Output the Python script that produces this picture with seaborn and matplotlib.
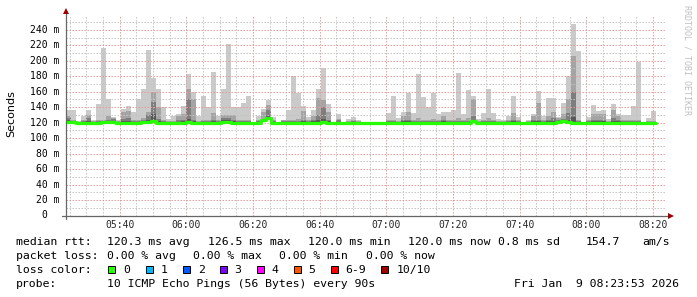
import numpy as np
import pandas as pd
import matplotlib
matplotlib.use("Agg")
import matplotlib.pyplot as plt
import matplotlib.transforms as mtransforms
from matplotlib.patches import Rectangle
from matplotlib.ticker import MultipleLocator
import seaborn as sns

# ---------------- data ----------------
first_bar = "05:24"          # start of first 90 s interval
step_seconds = 90
view_start = "05:23:53"
view_end = "08:23:53"

# highest ping of each 10-ping round (outer smoke band)
ping_max = [137, 136, 122, 128, 136, 124, 144, 216, 150, 127,
            123, 138, 141, 134, 150, 163, 214, 178, 163, 140,
            125, 128, 131, 142, 183, 160, 128, 154, 140, 186,
            128, 163, 222, 140, 140, 145, 154, 121, 129, 138,
            149, 127, 121, 124, 136, 180, 158, 142, 127, 136,
            163, 191, 144, 121, 131, 121, 125, 127, 124, 121,
            121, 121, 121, 121, 132, 155, 126, 134, 158, 132,
            183, 153, 140, 158, 131, 134, 134, 136, 184, 131,
            162, 154, 125, 133, 164, 132, 125, 124, 128, 155,
            127, 121, 123, 131, 161, 128, 152, 152, 127, 146,
            180, 248, 212, 121, 127, 143, 135, 136, 125, 144,
            131, 130, 130, 141, 198, 121, 126, 135]
# 9th ping
ping_p9 = [129, 123, 121, 123, 130, 122, 124, 124, 128, 126,
           122, 134, 135, 124, 124, 126, 134, 160, 140, 124,
           122, 122, 129, 131, 163, 150, 122, 124, 124, 132,
           123, 130, 130, 130, 124, 124, 124, 120.5, 124, 134,
           143, 124, 120.5, 123, 124, 124, 125, 135, 124, 129,
           152, 149, 134, 120.5, 125, 120.5, 122, 123, 122, 120.5,
           120.5, 120.5, 120.5, 120.5, 124, 124, 122, 128, 134, 124,
           126, 124, 124, 125, 124, 128, 124, 124, 126, 124,
           126, 150, 122, 124, 126, 124, 122, 122, 124, 132,
           124, 120.5, 122, 128, 146, 124, 128, 134, 126, 131,
           151, 206, 124, 120.5, 123, 131, 131, 131, 122, 136,
           128, 124, 124, 124, 124, 120.5, 122, 122]
# 8th ping
ping_p8 = [126, 121.5, 120.5, 121.5, 126, 121, 122, 122, 123, 125,
           121, 125, 126, 122, 122, 123, 130, 147, 125, 122,
           121, 121, 123, 124, 150, 124, 121, 122, 122, 124,
           122, 126, 126, 124, 122, 122, 122, 120.3, 122, 124,
           136, 122, 120.3, 122, 122, 122, 122, 124, 122, 124,
           130, 140, 124, 120.3, 123, 120.3, 121, 121.5, 121, 120.3,
           120.3, 120.3, 120.3, 120.3, 122, 122, 121, 124, 124, 122,
           122, 122, 122, 122, 122, 124, 122, 122, 122, 122,
           122, 128, 121, 122, 122, 122, 121, 121, 122, 124,
           122, 120.3, 121, 124, 124, 122, 124, 126, 124, 125,
           133, 160, 122, 120.3, 121.5, 124, 124, 124, 121, 126,
           124, 122, 122, 122, 122, 120.3, 121, 121]
# 7th ping
ping_p7 = [123, 121, 120.3, 121, 122, 120.5, 121, 121, 121, 122,
           120.5, 122, 122, 121, 121, 121, 124, 131, 122, 121,
           120.5, 120.5, 121, 122, 125, 122, 120.5, 121, 121, 122,
           121, 124, 124, 122, 121, 121, 121, 120.2, 121, 122,
           128, 121, 120.2, 121, 121, 121, 121, 122, 121, 122,
           124, 125, 122, 120.2, 121, 120.2, 120.5, 121, 120.5, 120.2,
           120.2, 120.2, 120.2, 120.2, 121, 121, 120.5, 122, 122, 121,
           121, 121, 121, 121, 121, 122, 121, 121, 121, 121,
           121, 124, 120.5, 121, 121, 121, 120.5, 120.5, 121, 122,
           121, 120.2, 120.5, 122, 122, 121, 122, 122, 122, 122,
           124, 127, 121, 120.2, 121, 122, 122, 122, 120.5, 122,
           122, 121, 121, 121, 121, 120.2, 120.5, 120.5]
# median rtt
median_rtt = [120.5, 120.5, 119.5, 119.5, 120, 120, 120, 120.5, 120.5, 121,
              120, 120, 120, 119.5, 120, 120.5, 121, 122.5, 120, 120,
              120, 119.5, 120, 120, 120.5, 120, 120, 120, 120, 120,
              120, 120.5, 120.5, 120, 120, 119.5, 120, 120, 120, 123,
              126.5, 120, 120, 120, 120, 120, 120, 120, 120, 120,
              120, 120.5, 120, 120, 120, 120, 120, 120, 120, 120,
              120, 120, 120, 120, 120, 120, 120, 120, 120, 120,
              120, 120, 120, 120, 120, 120, 120, 120, 120, 120,
              120, 121.5, 120, 120, 120, 120, 120, 120, 120, 120,
              120, 120, 120, 120, 120, 120, 120, 120, 121, 121.5,
              121, 120, 120, 120, 120, 120, 120, 120, 120, 120,
              120, 120, 120, 120, 120, 120, 120, 120]

xtick_labels = ["05:40", "06:00", "06:20", "06:40", "07:00",
                "07:20", "07:40", "08:00", "08:20"]
ytick_values = [0, 20, 40, 60, 80, 100, 120, 140, 160, 180, 200, 220, 240]
ytick_labels = ["0", "20 m", "40 m", "60 m", "80 m", "100 m", "120 m",
                "140 m", "160 m", "180 m", "200 m", "220 m", "240 m"]

legend_rtt = [("median rtt:", 16), ("120.3 ms avg", 107.3), ("126.5 ms max", 208.3),
              ("120.0 ms min", 308.0), ("120.0 ms now", 408.0), ("0.8 ms sd", 497.7),
              ("154.7", 586.0), ("am/s", 642.0)]
legend_loss = [("packet loss:", 16), ("0.00 % avg", 107.3), ("0.00 % max", 193.3),
               ("0.00 % min", 279.3), ("0.00 % now", 366.0)]
loss_labels = ["0", "1", "2", "3", "4", "5", "6-9", "10/10"]
loss_colors = ["#26ff00", "#00b8ff", "#0059ff", "#7e00ff", "#ff00ff",
               "#ff5500", "#ff0000", "#a00000"]
probe_text = "10 ICMP Echo Pings (56 Bytes) every 90s"
stamp_text = "Fri Jan  9 08:23:53 2026"

# ---------------- helpers ----------------
def hm(s):
    parts = [int(p) for p in s.split(":")]
    while len(parts) < 3:
        parts.append(0)
    return parts[0] * 60 + parts[1] + parts[2] / 60.0

W, H = 697, 297
sns.set_style("white")
plt.rcParams['font.family'] = ['DejaVu Sans Mono', 'DejaVu Sans']

fig = plt.figure(figsize=(W / 100, H / 100), dpi=100)
fig.patch.set_facecolor("white")
ax = fig.add_axes([66 / W, (H - 215.5) / H, 600 / W, 200 / H])

n = len(ping_max)
step_min = step_seconds / 60.0
x0 = hm(first_bar) + step_min * np.arange(n)
med = np.array(median_rtt, dtype=float)
base = med - 1.0

smoke_colors = ["#cacaca", "#a4a4a4", "#7e7e7e", "#585858"]
for top, col in zip([ping_max, ping_p9, ping_p8, ping_p7], smoke_colors):
    top = np.array(top, dtype=float)
    ax.bar(x0, np.clip(top - base, 0, None), bottom=base, width=step_min,
           align="edge", color=col, linewidth=0, zorder=1)

# median line (step)
df = pd.DataFrame({"t": np.append(x0, x0[-1] + step_min),
                   "rtt": np.append(med, med[-1])})
sns.lineplot(data=df, x="t", y="rtt", ax=ax, drawstyle="steps-post",
             color="#26ff00", linewidth=2.3, zorder=4)

ax.set_xlim(hm(view_start), hm(view_end))
ax.set_ylim(0, 258.5)
ax.set_xlabel("")
ax.set_ylabel("")

# ticks / grid
ax.set_xticks([hm(t) for t in xtick_labels])
ax.set_xticklabels(xtick_labels, fontsize=7, family="DejaVu Sans Mono")
ax.xaxis.set_minor_locator(MultipleLocator(5))
ax.set_yticks(ytick_values)
ax.yaxis.set_minor_locator(MultipleLocator(10))
ax.tick_params(axis="x", which="major", length=3, width=0.7, color="#888888", pad=0.3)
ax.tick_params(axis="x", which="minor", length=2, width=0.7, color="#888888")
ax.tick_params(axis="y", which="major", length=3, width=0.7, color="#888888", labelleft=False)
ax.tick_params(axis="y", which="minor", length=2, width=0.7, color="#aaaaaa")
ax.set_axisbelow(False)
ax.grid(which="minor", color="#c4c4c4", linewidth=0.72, linestyle=(0, (1.4, 1.6)))
ax.grid(which="major", color="#e89898", linewidth=0.72, linestyle=(0, (1.4, 1.6)))
for s in ax.spines.values():
    s.set_visible(False)
ax.set_facecolor("white")

# y tick labels
trans = mtransforms.blended_transform_factory(ax.transAxes, ax.transData)
for v, lab in zip(ytick_values, ytick_labels):
    dx = -6.7 if lab != "0" else -19.0
    t = mtransforms.offset_copy(trans, fig=fig, x=dx / 100.0 * 72, y=0, units="points")
    ax.text(0, v, lab, transform=t, ha="right", va="center", fontsize=7,
            family="DejaVu Sans Mono", color="black")

# axis lines with arrows
axis_col = "#666666"
ax.plot([0, 0], [-3.5 / 200, 1 + 4 / 200], transform=ax.transAxes, color=axis_col,
        lw=0.9, clip_on=False, zorder=5)
ax.plot([-4 / 600, 1 + 2 / 600], [0, 0], transform=ax.transAxes, color=axis_col,
        lw=0.9, clip_on=False, zorder=5)
ax.plot([0], [1 + 5 / 200], transform=ax.transAxes, marker="^", ms=4.5, color="#9a0000",
        clip_on=False, zorder=6, mew=0)
ax.plot([1 + 5 / 600], [0], transform=ax.transAxes, marker=">", ms=4.5, color="#9a0000",
        clip_on=False, zorder=6, mew=0)

# y label and watermark
fig.text(10.8 / W, 1 - 113.5 / H, "Seconds", rotation=90, ha="center", va="center",
         fontsize=8, family="DejaVu Sans", color="black")
fig.text(686.5 / W, 1 - 5 / H, "RRDTOOL / TOBI OETIKER", rotation=270, ha="center",
         va="top", fontsize=6, family="DejaVu Sans Mono", color="#c0c0c0")

# legend lines
def ftext(x, y, s, **kw):
    fig.text(x / W, 1 - y / H, s, fontsize=8.25, family="DejaVu Sans Mono",
             ha="left", va="baseline", color="black", **kw)

for s, xp in legend_rtt:
    ftext(xp, 245, s)
for s, xp in legend_loss:
    ftext(xp, 259, s)
ftext(16, 273, "loss color:")
box_x = [108.3, 145.7, 182.7, 219.7, 256.7, 293.7, 330.7, 381.3]
for bx, lab, col in zip(box_x, loss_labels, loss_colors):
    fig.add_artist(Rectangle((bx / W, 1 - 272.7 / H), 7 / W, 7 / H,
                             transform=fig.transFigure, facecolor=col,
                             edgecolor="black", linewidth=0.7))
    ftext(bx + 15, 273, lab)
ftext(16, 286.8, "probe:")
ftext(107.3, 286.8, probe_text)
ftext(513.7, 286.8, stamp_text)

fig.savefig("out.png", dpi=100, facecolor="white")
